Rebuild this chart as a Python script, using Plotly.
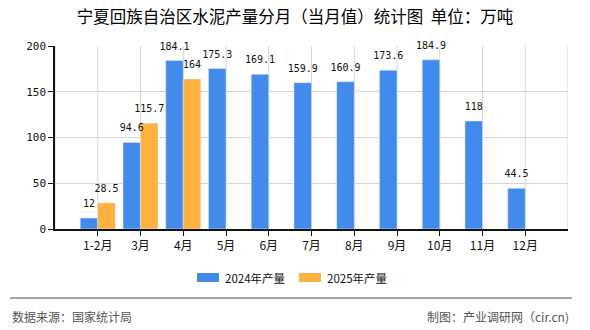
import plotly.graph_objects as go

categories = ["1-2月", "3月", "4月", "5月", "6月", "7月", "8月", "9月", "10月", "11月", "12月"]
values_2024 = [12, 94.6, 184.1, 175.3, 169.1, 159.9, 160.9, 173.6, 184.9, 118, 44.5]
values_2025 = [28.5, 115.7, 164, None, None, None, None, None, None, None, None]
y_ticks = [0, 50, 100, 150, 200]
series_names = ["2024年产量", "2025年产量"]
colors = ["#428BEC", "#FCB140"]

x_pos = list(range(len(categories)))
label_font = dict(family="DejaVu Sans Mono", size=10, color="#111")

fig = go.Figure()
for vals, name, col in [(values_2024, series_names[0], colors[0]), (values_2025, series_names[1], colors[1])]:
    fig.add_trace(go.Bar(
        x=x_pos, y=vals, name=name, marker_color=col, showlegend=False,
    ))
for vals, name in [(values_2024, series_names[0]), (values_2025, series_names[1])]:
    fig.add_trace(go.Scatter(
        x=x_pos, y=vals, name=name, mode="markers+text",
        marker=dict(size=12, opacity=0), textposition="top center",
        text=[("%g" % v) if v is not None else "" for v in vals],
        textfont=label_font, cliponaxis=False, showlegend=False, hoverinfo="skip",
    ))

W, H = 590, 330
L, R, T, B = 55, 22, 46, 101
pw, ph = W - L - R, H - T - B

def px(x):
    return (x - L) / pw

def py(y):
    return (H - B - y) / ph

fig.update_layout(
    width=W, height=H,
    margin=dict(l=L, r=R, t=T, b=B),
    paper_bgcolor="white", plot_bgcolor="white",
    barmode="group", bargap=0.18, bargroupgap=0,
    scattermode="group", scattergap=0.18,
    font=dict(family="Noto Sans CJK SC", size=12, color="#222"),
    title=dict(text="宁夏回族自治区水泥产量分月（当月值）统计图  单位：万吨", x=0.5, xanchor="center",
               y=1 - 17/330, yanchor="middle", yref="container",
               font=dict(size=16.5, color="#000")),
    showlegend=False,
    xaxis=dict(
        range=[-1, 11], tickmode="array", tickvals=x_pos, ticktext=categories,
        showgrid=False, showline=True, linecolor="#111", linewidth=1.5,
        ticks="outside", ticklen=5, tickcolor="#111", tickfont=dict(size=12, color="#111"),
        zeroline=False,
    ),
    yaxis=dict(
        range=[0, 200], tickvals=y_ticks, showgrid=True, gridcolor="#d6d6d6",
        showline=True, linecolor="#111", linewidth=1.5, ticks="outside", ticklen=5, tickcolor="#111",
        tickfont=dict(family="DejaVu Sans Mono", size=11, color="#111"), zeroline=False,
    ),
)

shapes = []
for p in [-1] + x_pos + [11]:
    shapes.append(dict(type="line", xref="x", yref="paper", x0=p, x1=p, y0=0, y1=1,
                       line=dict(color="#d6d6d6", width=1), layer="below"))
shapes.append(dict(type="line", xref="paper", yref="paper", x0=px(10), x1=px(572),
                   y0=py(298), y1=py(298), line=dict(color="#888", width=1.5)))
legend_x = [197, 299]
for i in range(2):
    shapes.append(dict(type="rect", xref="paper", yref="paper",
                       x0=px(legend_x[i]), x1=px(legend_x[i] + 22), y0=py(282), y1=py(273),
                       fillcolor=colors[i], line=dict(width=0)))
    fig.add_annotation(text=series_names[i], xref="paper", yref="paper",
                       x=px(legend_x[i] + 26), xanchor="left", y=py(277.5), yanchor="middle",
                       showarrow=False, font=dict(size=11.5, color="#111"))
fig.update_layout(shapes=shapes)

fig.add_annotation(text="数据来源：国家统计局", xref="paper", yref="paper",
                   x=px(10), xanchor="left", y=py(316), yanchor="middle",
                   showarrow=False, font=dict(size=12, color="#555"))
fig.add_annotation(text="制图：产业调研网（cir.cn)", xref="paper", yref="paper",
                   x=px(571), xanchor="right", y=py(316), yanchor="middle",
                   showarrow=False, font=dict(size=12, color="#555"))

fig.write_html("out.html")
